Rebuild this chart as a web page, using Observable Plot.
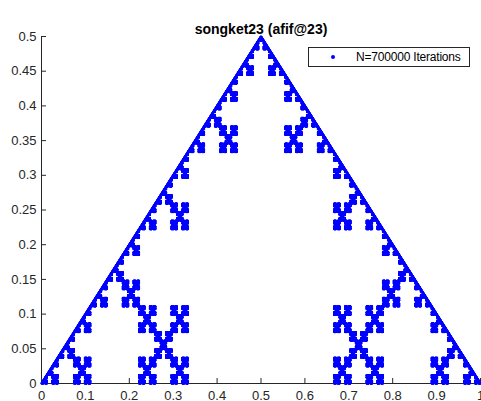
<!DOCTYPE html>
<html><head><meta charset="utf-8">
<script src="https://cdn.jsdelivr.net/npm/d3@7"></script>
<script src="https://cdn.jsdelivr.net/npm/@observablehq/plot@0.6"></script>
<style>
body{margin:0;background:#fff;}
#wrap{position:relative;width:481px;height:401px;overflow:hidden;font-family:"Liberation Sans",Arial,sans-serif;}
#legend{position:absolute;left:308px;top:47px;width:162px;height:20px;border:1px solid #262626;background:#fff;box-sizing:border-box;font-size:12px;color:#000;}
#legend .dot{position:absolute;left:22px;top:7px;width:4px;height:4px;border-radius:2px;background:#0000ff;}
#legend .lbl{position:absolute;left:47px;top:2px;white-space:nowrap;letter-spacing:-0.2px;}
</style></head><body><div id="wrap"></div>
<script>
// IFS table "songket23": x' = a*x + b*y + e ; y' = c*x + d*y + f
const a = [1/3, 0,    1/3, 0,    1/3];
const b = [0,   -1/3, 0,   1/3,  0  ];
const c = [0,   1/3,  0,   -1/3, 0  ];
const d = [1/3, 0,    1/3, 0,    1/3];
const e = [0,   1/3,  1/3, 2/3,  2/3];
const f = [0,   0,    1/3, 1/3,  0  ];
const seed = [0.5, 1/6];
const depth = 7;
const xTicks = [0, 0.1, 0.2, 0.3, 0.4, 0.5, 0.6, 0.7, 0.8, 0.9, 1];
const yTicks = [0, 0.05, 0.1, 0.15, 0.2, 0.25, 0.3, 0.35, 0.4, 0.45, 0.5];
const title = "songket23 (afif@23)";
const legendLabel = "N=700000 Iterations";

// deterministic expansion of the IFS (all map sequences of given depth)
let pts = [{x: seed[0], y: seed[1]}];
for (let k = 0; k < depth; k++) {
  const next = [];
  for (const p of pts) {
    for (let i = 0; i < a.length; i++) {
      next.push({x: a[i]*p.x + b[i]*p.y + e[i], y: c[i]*p.x + d[i]*p.y + f[i]});
    }
  }
  pts = next;
}

const fmt = v => String(+v.toFixed(2));
const ink = "#262626";
const chart = Plot.plot({
  width: 481, height: 401,
  marginLeft: 41, marginRight: 1, marginTop: 36, marginBottom: 18,
  style: {fontFamily: "'Liberation Sans', Arial, sans-serif", fontSize: "13px", background: "#fff", color: ink},
  x: {domain: [0, 1], label: null},
  y: {domain: [0, 0.5], label: null},
  marks: [
    Plot.axisX(xTicks, {tickSize: -5, tickPadding: 12, tickFormat: fmt, stroke: ink, fill: ink, fontSize: 13, label: null}),
    Plot.axisY(yTicks, {tickSize: -5, tickPadding: 10, tickFormat: fmt, stroke: ink, fill: ink, fontSize: 13, label: null}),
    Plot.ruleX([0], {y1: 0, y2: 0.5, stroke: ink}),
    Plot.ruleY([0], {x1: 0, x2: 1, stroke: ink}),
    Plot.dot(pts, {x: "x", y: "y", r: 1.1, fill: "#0000ff", stroke: null}),
    Plot.text([title], {frameAnchor: "top", dy: -12, fontWeight: "bold", fontSize: 14, fill: "#000"})
  ]
});
const wrap = document.getElementById("wrap");
wrap.appendChild(chart);
const lg = document.createElement("div");
lg.id = "legend";
lg.innerHTML = '<span class="dot"></span><span class="lbl"></span>';
lg.querySelector(".lbl").textContent = legendLabel;
wrap.appendChild(lg);
</script></body></html>
